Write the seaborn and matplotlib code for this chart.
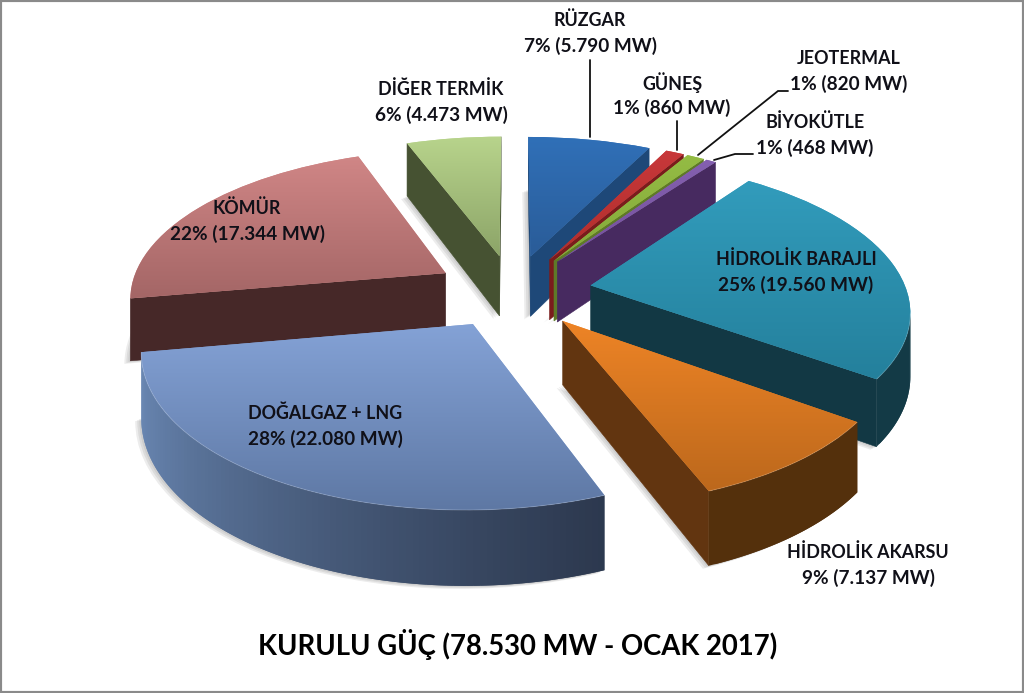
import numpy as np
import matplotlib
matplotlib.use('Agg')
import matplotlib.pyplot as plt
import matplotlib.transforms as mtransforms
from matplotlib.colors import to_rgb
import seaborn as sns

# Data
names = ['RÜZGAR', 'GÜNEŞ', 'JEOTERMAL', 'BİYOKÜTLE', 'HİDROLİK BARAJLI',
         'HİDROLİK AKARSU', 'DOĞALGAZ + LNG', 'KÖMÜR', 'DİĞER TERMİK']
values = [5790, 860, 820, 468, 19560, 7137, 22080, 17344, 4473]
shares = ['7% (5.790 MW)', '1% (860 MW)', '1% (820 MW)', '1% (468 MW)', '25% (19.560 MW)',
          '9% (7.137 MW)', '28% (22.080 MW)', '22% (17.344 MW)', '6% (4.473 MW)']
title = 'KURULU GÜÇ (78.530 MW - OCAK 2017)'

# Colours: top of face, bottom of face, cut side, rim left end, rim right end
top_light = ['#3070b8', '#c8383a', '#94bc44', '#8460b0', '#329cbc', '#ee8426', '#84a2d6', '#d08686', '#b8d48c']
top_dark = ['#2a5c98', '#b02e2c', '#84a83a', '#74509c', '#24809c', '#bc681c', '#5e78a4', '#a46666', '#8ca468']
side_cut = ['#1e4878', '#7a1c1c', '#5e7a28', '#472a60', '#123844', '#623510', '#2c3850', '#462828', '#465232']
rim_left = ['#1e4878', '#7a1c1c', '#5e7a28', '#472a60', '#123844', '#54300c', '#6a88b4', '#462828', '#465232']
rim_right = ['#1e4878', '#7a1c1c', '#5e7a28', '#472a60', '#133a46', '#54300c', '#2c384e', '#462828', '#465232']

# Back to front
draw_order = [8, 7, 0, 1, 2, 3, 4, 5, 6]

# Where the labels sit, in picture pixels
label_pos = [(590, 33), (672, 95), (849, 71), (815, 135), (796, 272),
             (868, 565), (325, 426), (247, 221), (441, 102)]
leaders = [[(590, 60), (590, 137)],
           [(677, 121), (677, 150)],
           [(788, 91), (778, 91), (698, 155)],
           [(753, 154), (735, 154), (714, 160)]]

# Camera for the tilted pie
CX, CY = 513, 291
SX, SY = 316, 147
PERSP = 0.15
DEPTH = 62
EXPLODE = 0.25


def project(x, y, z=0.0):
    w = 1 / (1 + PERSP * np.asarray(y))
    return CX + SX * np.asarray(x) * w, CY - SY * np.asarray(y) * w + z * DEPTH * w


class Tilt(mtransforms.Transform):
    input_dims = 2
    output_dims = 2
    has_inverse = False

    def __init__(self, z=0.0, dx=0.0, dy=0.0):
        super().__init__()
        self.z, self.dx, self.dy = z, dx, dy

    def transform_non_affine(self, values):
        xs, ys = project(values[:, 0], values[:, 1], self.z)
        return np.column_stack([xs + self.dx, ys + self.dy])


def mix(a, b, t):
    a, b = np.array(to_rgb(a)), np.array(to_rgb(b))
    return tuple(a + (b - a) * t)


def front_facing(px, py):
    return 0.5 * np.sum(px * np.roll(py, -1) - np.roll(px, -1) * py) > 0


sns.set_theme(style='white')
plt.rcParams['font.family'] = ['Lato', 'DejaVu Sans']

fig = plt.figure(figsize=(10.24, 6.93), dpi=100)
ax = fig.add_axes([0, 0, 1, 1])
explode = [EXPLODE] * len(values)

# soft shadow, bottom face pushed down-left
for shift in [(-2, 1), (-4, 2), (-6, 3)]:
    wedges, _ = ax.pie(values, explode=explode, startangle=90, counterclock=False,
                       colors=['#707070'] * len(values), wedgeprops={'alpha': 0.13, 'linewidth': 0})
    for rank, i in enumerate(draw_order):
        wedges[i].set_transform(Tilt(1.0, *shift) + ax.transData)
        wedges[i].set_zorder(rank * 10)

# top faces
wedges, _ = ax.pie(values, explode=explode, startangle=90, counterclock=False,
                   colors=sns.color_palette(top_light), wedgeprops={'linewidth': 0})

for rank, i in enumerate(draw_order):
    w = wedges[i]
    w.set_transform(Tilt() + ax.transData)
    w.set_zorder(rank * 10 + 3)

    cx, cy = w.center
    t = np.radians(np.linspace(w.theta1, w.theta2, max(int(w.theta2 - w.theta1), 2) + 1))
    ex, ey = cx + np.cos(t), cy + np.sin(t)

    # the two cut sides
    for ax_, ay_, bx_, by_ in [(cx, cy, ex[0], ey[0]), (ex[-1], ey[-1], cx, cy)]:
        xt, yt = project(np.array([ax_, bx_]), np.array([ay_, by_]))
        xb, yb = project(np.array([bx_, ax_]), np.array([by_, ay_]), 1.0)
        px, py = np.r_[xt, xb], np.r_[yt, yb]
        if front_facing(px, py):
            ax.fill(px, py, color=side_cut[i], lw=0.4, zorder=rank * 10 + 1)

    # outer rim in small strips, each one runs over the next to hide seams
    xtop, ytop = project(ex, ey)
    xbot, ybot = project(ex, ey, 1.0)
    xr = (xtop - xtop.min()) / (xtop.max() - xtop.min())
    for k in range(len(t) - 1):
        n = min(k + 2, len(t) - 1)
        px = np.array([xtop[k], xtop[k + 1], xbot[k + 1], xbot[k]])
        py = np.array([ytop[k], ytop[k + 1], ybot[k + 1], ybot[k]])
        if front_facing(px, py):
            sx = np.array([xtop[k], xtop[n], xbot[n], xbot[k]])
            sy = np.array([ytop[k], ytop[n], ybot[n], ybot[k]])
            ax.fill(sx, sy, color=mix(rim_left[i], rim_right[i], xr[k] ** 0.6), lw=0,
                    zorder=rank * 10 + 2)
            ax.plot(xtop[k:k + 2], ytop[k:k + 2], color='#ffffff', alpha=0.2, lw=0.7,
                    solid_capstyle='butt', zorder=rank * 10 + 5)

    # vertical shading of the top face
    ramp = np.linspace(0, 1, 64)[:, None]
    light, dark = np.array(to_rgb(top_light[i])), np.array(to_rgb(top_dark[i]))
    grad = (light + (dark - light) * ramp)[:, None, :]
    ax_pts, ay_pts = project(np.r_[cx, ex], np.r_[cy, ey])
    im = ax.imshow(grad, extent=(ax_pts.min() - 1, ax_pts.max() + 1, ay_pts.max() + 1, ay_pts.min() - 1),
                   origin='upper', aspect='auto', interpolation='bilinear', zorder=rank * 10 + 4)
    im.set_clip_path(w)

ax.set_xlim(0, 1024)
ax.set_ylim(693, 0)
ax.set_aspect('auto')
ax.set_xticks([])
ax.set_yticks([])
ax.set_frame_on(True)
for spine in ax.spines.values():
    spine.set_visible(True)
    spine.set_color('#8a8a8a')
    spine.set_linewidth(3)

for line in leaders:
    ax.plot([p[0] for p in line], [p[1] for p in line], color='#111111', lw=1.3, zorder=200,
            solid_joinstyle='miter')

# Lato capitals run wider than the original face, so the name line is a little smaller
for name, share, pos in zip(names, shares, label_pos):
    ax.text(pos[0], pos[1] - 12.5, name, ha='center', va='center', fontsize=12.9,
            fontweight='bold', color='#101018', zorder=210)
    ax.text(pos[0], pos[1] + 12.5, share, ha='center', va='center', fontsize=13.7,
            fontweight='bold', color='#101018', zorder=210)

ax.text(518, 644, title, ha='center', va='center', fontsize=19.8, fontweight='bold',
        color='#000000', zorder=210)

fig.savefig('out.png', dpi=100)
